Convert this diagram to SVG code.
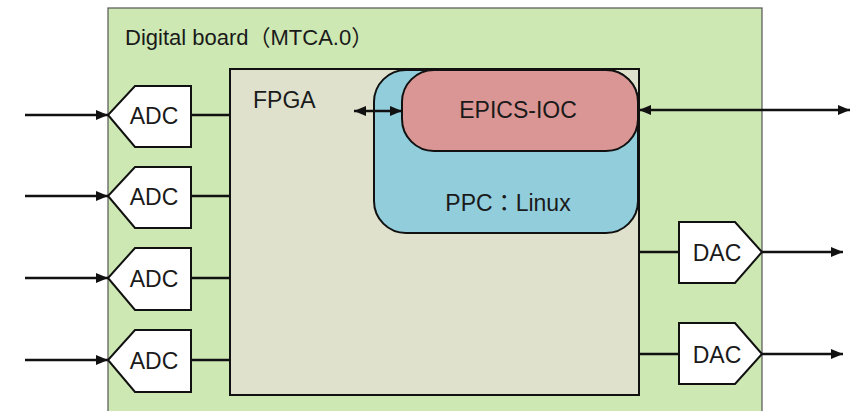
<svg xmlns="http://www.w3.org/2000/svg" width="864" height="411" viewBox="0 0 864 411">
  <defs>
    <style>
      .lbl { font-family: "Liberation Sans", "Noto Sans CJK JP", sans-serif; font-size: 23px; fill: #1a1a1a; }
      .mid { text-anchor: middle; }
      .conv { fill: #ffffff; stroke: #111; stroke-width: 2; stroke-linejoin: miter; }
      .wire { fill: none; stroke: #111; stroke-width: 2.5; }
    </style>
    <marker id="head" viewBox="0 0 12 10" refX="12" refY="5" markerWidth="12" markerHeight="10" markerUnits="userSpaceOnUse" orient="auto-start-reverse">
      <path d="M0,0 L12,5 L0,10 Z" fill="#111"/>
    </marker>
  </defs>

  <!-- board outline -->
  <g id="board">
    <rect x="108" y="8" width="654" height="420" fill="#cde8b3" stroke="#555" stroke-width="1.2"/>
    <text class="lbl" x="125" y="45" style="font-size:22px">Digital board（MTCA.0）</text>
  </g>

  <!-- FPGA -->
  <g id="fpga">
    <rect x="230" y="69" width="409" height="326" fill="#dfe1cd" stroke="#111" stroke-width="2"/>
    <text class="lbl" x="253" y="108">FPGA</text>
  </g>

  <!-- PowerPC running Linux -->
  <g id="ppc">
    <rect x="374" y="70" width="264" height="163" rx="32" ry="32" fill="#92cddc" stroke="#111" stroke-width="2"/>
    <text class="lbl mid" x="508" y="211">PPC：Linux</text>
  </g>

  <!-- EPICS IOC -->
  <g id="ioc">
    <rect x="402" y="70" width="236" height="81" rx="32" ry="32" fill="#da9694" stroke="#111" stroke-width="2"/>
    <text class="lbl mid" x="518" y="118">EPICS-IOC</text>
  </g>

  <!-- ADC converters -->
  <g id="adc1">
    <polygon class="conv" points="135,86 191,86 191,147 135,147 108,115"/>
    <text class="lbl mid" x="154" y="124">ADC</text>
  </g>
  <g id="adc2">
    <polygon class="conv" points="135,167 191,167 191,228 135,228 108,196"/>
    <text class="lbl mid" x="154" y="205">ADC</text>
  </g>
  <g id="adc3">
    <polygon class="conv" points="135,248 191,248 191,310 135,310 108,278"/>
    <text class="lbl mid" x="154" y="287">ADC</text>
  </g>
  <g id="adc4">
    <polygon class="conv" points="135,330 191,330 191,392 135,392 108,360"/>
    <text class="lbl mid" x="154" y="369">ADC</text>
  </g>

  <!-- DAC converters -->
  <g id="dac1">
    <polygon class="conv" points="679,222 735,222 762,252 735,283 679,283"/>
    <text class="lbl mid" x="717" y="261">DAC</text>
  </g>
  <g id="dac2">
    <polygon class="conv" points="679,323 735,323 762,354 735,384 679,384"/>
    <text class="lbl mid" x="717" y="363">DAC</text>
  </g>

  <!-- connectors -->
  <g id="connectors">
    <line class="wire" x1="25" y1="115" x2="108" y2="115" marker-end="url(#head)"/>
    <line class="wire" x1="25" y1="196" x2="108" y2="196" marker-end="url(#head)"/>
    <line class="wire" x1="25" y1="278" x2="108" y2="278" marker-end="url(#head)"/>
    <line class="wire" x1="25" y1="360" x2="108" y2="360" marker-end="url(#head)"/>

    <line class="wire" x1="191" y1="115" x2="230" y2="115"/>
    <line class="wire" x1="191" y1="196" x2="230" y2="196"/>
    <line class="wire" x1="191" y1="278" x2="230" y2="278"/>
    <line class="wire" x1="191" y1="360" x2="230" y2="360"/>

    <line class="wire" x1="639" y1="252" x2="679" y2="252"/>
    <line class="wire" x1="639" y1="354" x2="679" y2="354"/>

    <line class="wire" x1="762" y1="252" x2="843" y2="252" marker-end="url(#head)"/>
    <line class="wire" x1="762" y1="354" x2="843" y2="354" marker-end="url(#head)"/>

    <line class="wire" x1="354" y1="111" x2="402" y2="111" marker-start="url(#head)" marker-end="url(#head)"/>
    <line class="wire" x1="639" y1="110" x2="850" y2="110" marker-start="url(#head)" marker-end="url(#head)"/>
  </g>
</svg>
